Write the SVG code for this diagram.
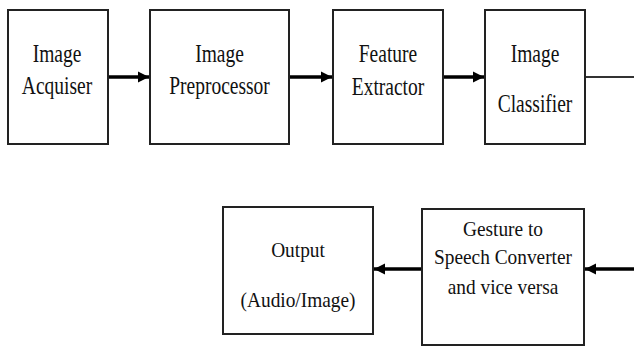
<svg xmlns="http://www.w3.org/2000/svg" width="634" height="347" viewBox="0 0 634 347">
<defs>
<style>
.box{fill:#fff;stroke:#222;stroke-width:2}
.lbl{font-family:'Liberation Serif','Times New Roman',serif;font-size:25px;fill:#111;text-anchor:middle}
.lb2{font-family:'Liberation Serif','Times New Roman',serif;font-size:21.5px;fill:#111;text-anchor:middle}
.arr{stroke:#000;stroke-width:3.5;fill:none}
.thin{stroke:#333;stroke-width:2;fill:none}
</style>
<marker id="ah" viewBox="0 0 10 10" refX="10" refY="5" markerWidth="3.2" markerHeight="3.4" markerUnits="strokeWidth" orient="auto">
<path d="M0,0 L10,5 L0,10 Z" fill="#000"/>
</marker>
</defs>
<rect width="634" height="347" fill="#fff"/>
<g id="connectors">
<line class="arr" x1="108" y1="77" x2="149" y2="77" marker-end="url(#ah)"/>
<line class="arr" x1="289" y1="77" x2="332" y2="77" marker-end="url(#ah)"/>
<line class="arr" x1="443" y1="77" x2="484" y2="77" marker-end="url(#ah)"/>
<line class="thin" x1="585" y1="77" x2="634" y2="77"/>
<line class="arr" x1="634" y1="269" x2="585" y2="269" marker-end="url(#ah)"/>
<line class="arr" x1="422" y1="269" x2="374" y2="269" marker-end="url(#ah)"/>
</g>
<g id="image-acquiser">
<rect class="box" x="8" y="10" width="100" height="134"/>
<text class="lbl" transform="translate(57,62) scale(0.78,1)">Image</text>
<text class="lbl" transform="translate(57,94) scale(0.78,1)">Acquiser</text>
</g>
<g id="image-preprocessor">
<rect class="box" x="150" y="10" width="139" height="134"/>
<text class="lbl" transform="translate(219.5,62) scale(0.78,1)">Image</text>
<text class="lbl" transform="translate(219.5,94) scale(0.78,1)">Preprocessor</text>
</g>
<g id="feature-extractor">
<rect class="box" x="333" y="10" width="110" height="134"/>
<text class="lbl" transform="translate(388,62) scale(0.78,1)">Feature</text>
<text class="lbl" transform="translate(388,95) scale(0.78,1)">Extractor</text>
</g>
<g id="image-classifier">
<rect class="box" x="485" y="10" width="100" height="134"/>
<text class="lbl" transform="translate(535,62) scale(0.78,1)">Image</text>
<text class="lbl" transform="translate(535,112) scale(0.78,1)">Classifier</text>
</g>
<g id="gesture-converter">
<rect class="box" x="422" y="209" width="162" height="136"/>
<text class="lb2" transform="translate(503,236) scale(0.9,1)">Gesture to</text>
<text class="lb2" transform="translate(503,264) scale(0.9,1)">Speech Converter</text>
<text class="lb2" transform="translate(503,294) scale(0.9,1)">and vice versa</text>
</g>
<g id="output">
<rect class="box" x="223" y="207" width="150" height="127"/>
<text class="lb2" transform="translate(298,257) scale(0.9,1)">Output</text>
<text class="lb2" transform="translate(298,307) scale(0.9,1)">(Audio/Image)</text>
</g>
</svg>
